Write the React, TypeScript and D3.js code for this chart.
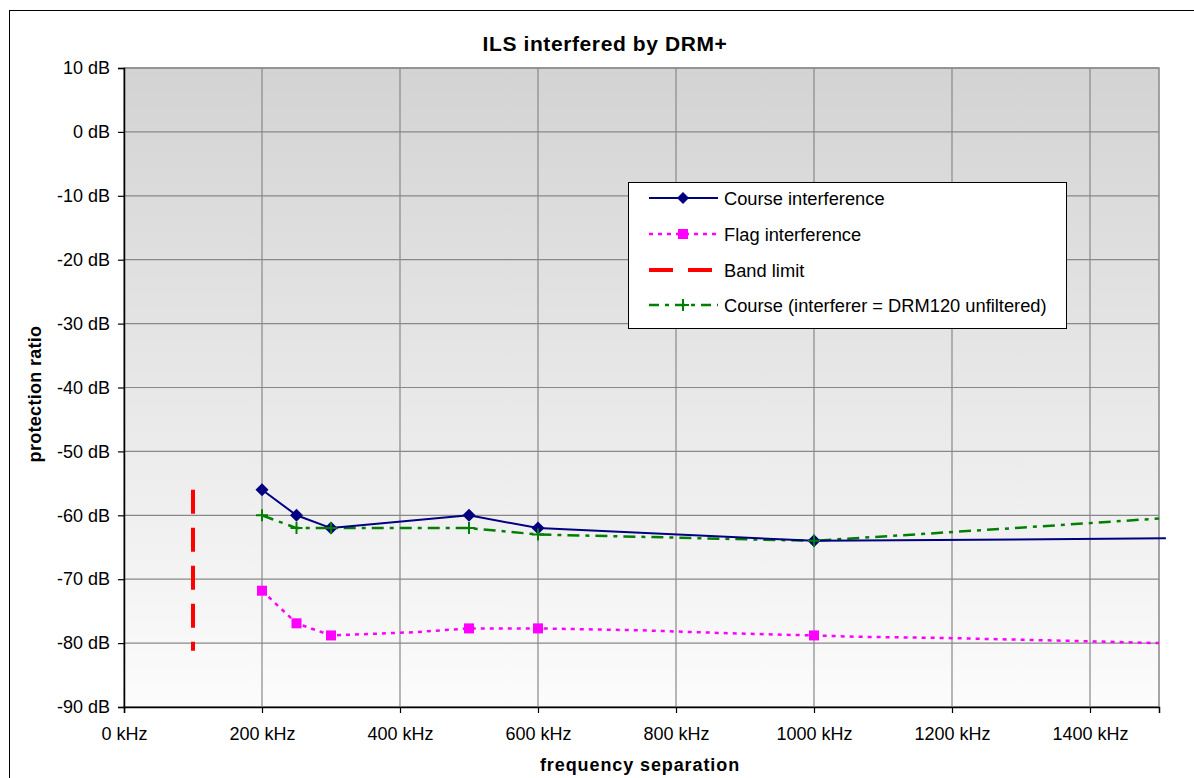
import { useEffect, useRef } from "react";
import * as d3 from "d3";

// frequency separation (kHz) / protection ratio (dB)
const measuredFreq = [200, 250, 300, 500, 600, 1000];

const courseFreq = [200, 250, 300, 500, 600, 1000, 1510];
const courseDb = [-56, -60, -62, -60, -62, -64, -63.6];

const flagFreq = [200, 250, 300, 420, 500, 600, 750, 860, 960, 1000, 1060, 1190, 1310, 1430, 1500];
const flagDb = [-71.8, -76.9, -78.8, -78.3, -77.7, -77.7, -78.0, -78.4, -78.7, -78.8, -79.0, -79.2, -79.5, -79.8, -80.0];

const unfilteredFreq = [200, 250, 300, 500, 600, 1000, 1290, 1500];
const unfilteredDb = [-60, -62, -62, -62, -63, -64, -62, -60.5];

const bandFreq = [100, 100];
const bandDb = [-56, -81.2];

const xTicks = [0, 200, 400, 600, 800, 1000, 1200, 1400];
const yTicks = [10, 0, -10, -20, -30, -40, -50, -60, -70, -80, -90];

const legendLabels = [
  "Course interference",
  "Flag interference",
  "Band limit",
  "Course (interferer = DRM120 unfiltered)",
];

const FONT = "'Liberation Sans', Arial, sans-serif";

export default function App() {
  const svgRef = useRef<SVGSVGElement>(null);

  useEffect(() => {
    if (!svgRef.current) return;
    const svg = d3.select(svgRef.current);
    svg.selectAll("*").remove();

    const margin = { left: 124, top: 68, right: 1159, bottom: 707 };

    const x = d3.scaleLinear().domain([0, 1500]).range([margin.left, margin.right]);
    const y = d3.scaleLinear().domain([-90, 10]).range([margin.bottom, margin.top]);

    // background gradient
    const defs = svg.append("defs");
    const grad = defs.append("linearGradient")
      .attr("id", "plotbg")
      .attr("x1", 0).attr("y1", 0).attr("x2", 0).attr("y2", 1);
    grad.append("stop").attr("offset", "0%").attr("stop-color", "#d3d3d3");
    grad.append("stop").attr("offset", "100%").attr("stop-color", "#fcfcfc");

    // chart border
    svg.append("rect")
      .attr("x", 9.5).attr("y", 10.5)
      .attr("width", 1200).attr("height", 800)
      .attr("fill", "#fff").attr("stroke", "#000").attr("stroke-width", 1);

    svg.append("rect")
      .attr("x", margin.left).attr("y", margin.top)
      .attr("width", margin.right - margin.left)
      .attr("height", margin.bottom - margin.top)
      .attr("fill", "url(#plotbg)")
      .attr("stroke", "#888").attr("stroke-width", 1.5);

    // grid
    svg.append("g")
      .selectAll("line")
      .data(xTicks.filter(d => d > 0))
      .join("line")
      .attr("x1", d => x(d)).attr("x2", d => x(d))
      .attr("y1", margin.top).attr("y2", margin.bottom)
      .attr("stroke", "#888").attr("stroke-width", 1.2);

    svg.append("g")
      .selectAll("line")
      .data(yTicks)
      .join("line")
      .attr("x1", margin.left).attr("x2", margin.right)
      .attr("y1", d => y(d)).attr("y2", d => y(d))
      .attr("stroke", "#888").attr("stroke-width", 1.2);

    // axes
    const xAxis = svg.append("g")
      .attr("transform", `translate(0,${margin.bottom})`)
      .call(d3.axisBottom(x).tickValues(xTicks).tickSize(6).tickPadding(14).tickFormat(d => `${d} kHz`));
    xAxis.select(".domain").attr("stroke", "#000").attr("stroke-width", 1.5);
    xAxis.selectAll(".tick line").attr("stroke", "#000").attr("stroke-width", 1.2);
    xAxis.selectAll("text").attr("font-family", FONT).attr("font-size", 18).attr("fill", "#000");

    const yAxis = svg.append("g")
      .attr("transform", `translate(${margin.left},0)`)
      .call(d3.axisLeft(y).tickValues(yTicks).tickSize(6).tickPadding(8).tickFormat(d => `${d} dB`));
    yAxis.select(".domain").attr("stroke", "#000").attr("stroke-width", 1.5);
    yAxis.selectAll(".tick line").attr("stroke", "#000").attr("stroke-width", 1.2);
    yAxis.selectAll("text").attr("font-family", FONT).attr("font-size", 18).attr("fill", "#000");

    const line = d3.line<[number, number]>().x(d => x(d[0])).y(d => y(d[1]));
    const pairs = (f: number[], v: number[]) => f.map((d, i) => [d, v[i]] as [number, number]);

    const course = pairs(courseFreq, courseDb);
    const flag = pairs(flagFreq, flagDb);
    const unfiltered = pairs(unfilteredFreq, unfilteredDb);
    const band = pairs(bandFreq, bandDb);

    svg.append("path").attr("d", line(band)).attr("fill", "none")
      .attr("stroke", "#ff0000").attr("stroke-width", 4).attr("stroke-dasharray", "24,14");

    svg.append("path").attr("d", line(flag)).attr("fill", "none")
      .attr("stroke", "#ff00ff").attr("stroke-width", 2.5).attr("stroke-dasharray", "4,5");

    svg.append("path").attr("d", line(unfiltered)).attr("fill", "none")
      .attr("stroke", "#008000").attr("stroke-width", 2.5).attr("stroke-dasharray", "12,6,4,6");

    svg.append("path").attr("d", line(course)).attr("fill", "none")
      .attr("stroke", "#000080").attr("stroke-width", 2);

    const isMeasured = (d: [number, number]) => measuredFreq.includes(d[0]);

    // markers
    const diamond = (cx: number, cy: number, r: number) =>
      `M${cx},${cy - r}L${cx + r},${cy}L${cx},${cy + r}L${cx - r},${cy}Z`;
    const plus = (cx: number, cy: number, r: number) =>
      `M${cx - r},${cy}H${cx + r}M${cx},${cy - r}V${cy + r}`;

    svg.append("g").selectAll("rect")
      .data(flag.filter(isMeasured))
      .join("rect")
      .attr("x", d => x(d[0]) - 5).attr("y", d => y(d[1]) - 5)
      .attr("width", 10).attr("height", 10).attr("fill", "#ff00ff");

    svg.append("g").selectAll("path")
      .data(course.filter(isMeasured))
      .join("path")
      .attr("d", d => diamond(x(d[0]), y(d[1]), 6.5))
      .attr("fill", "#000080");

    svg.append("g").selectAll("path")
      .data(unfiltered.filter(isMeasured))
      .join("path")
      .attr("d", d => plus(x(d[0]), y(d[1]), 6))
      .attr("stroke", "#008000").attr("stroke-width", 2).attr("fill", "none");

    // titles
    svg.append("text").attr("x", 605).attr("y", 51).attr("text-anchor", "middle")
      .attr("font-family", FONT).attr("font-weight", "bold").attr("font-size", 21)
      .attr("letter-spacing", 0.6).text("ILS interfered by DRM+");

    svg.append("text").attr("x", 640).attr("y", 771).attr("text-anchor", "middle")
      .attr("font-family", FONT).attr("font-weight", "bold").attr("font-size", 18)
      .attr("letter-spacing", 0.9).text("frequency separation");

    svg.append("text")
      .attr("transform", "translate(41,394) rotate(-90)")
      .attr("text-anchor", "middle")
      .attr("font-family", FONT).attr("font-weight", "bold").attr("font-size", 18)
      .attr("letter-spacing", 0.3).text("protection ratio");

    // legend
    const lg = svg.append("g");
    lg.append("rect").attr("x", 628.5).attr("y", 182.5).attr("width", 438).attr("height", 146)
      .attr("fill", "#fff").attr("stroke", "#000").attr("stroke-width", 1);

    const rowY = [198, 234, 270, 305];
    const sampleX = [649, 718];
    const mid = 683;
    const styles = [
      { color: "#000080", width: 2, dash: null },
      { color: "#ff00ff", width: 2.5, dash: "4,5" },
      { color: "#ff0000", width: 4, dash: "24,15" },
      { color: "#008000", width: 2.5, dash: "10,6,4,6" },
    ];
    legendLabels.forEach((label, i) => {
      const s = styles[i];
      const ly = rowY[i];
      lg.append("line").attr("x1", sampleX[0]).attr("x2", sampleX[1])
        .attr("y1", ly).attr("y2", ly)
        .attr("stroke", s.color).attr("stroke-width", s.width)
        .attr("stroke-dasharray", s.dash);
      if (i === 0) lg.append("path").attr("d", diamond(mid, ly, 6)).attr("fill", "#000080");
      if (i === 1) lg.append("rect").attr("x", mid - 5).attr("y", ly - 5)
        .attr("width", 10).attr("height", 10).attr("fill", "#ff00ff");
      if (i === 3) lg.append("path").attr("d", plus(mid, ly, 6))
        .attr("stroke", "#008000").attr("stroke-width", 2);
      lg.append("text").attr("x", 724).attr("y", ly + 6.5)
        .attr("font-family", FONT).attr("font-size", 18.3).text(label);
    });
  }, []);

  return (
    <svg
      ref={svgRef}
      width={1194}
      height={778}
      style={{ position: "absolute", left: 0, top: 0, display: "block", background: "#fff" }}
    />
  );
}
